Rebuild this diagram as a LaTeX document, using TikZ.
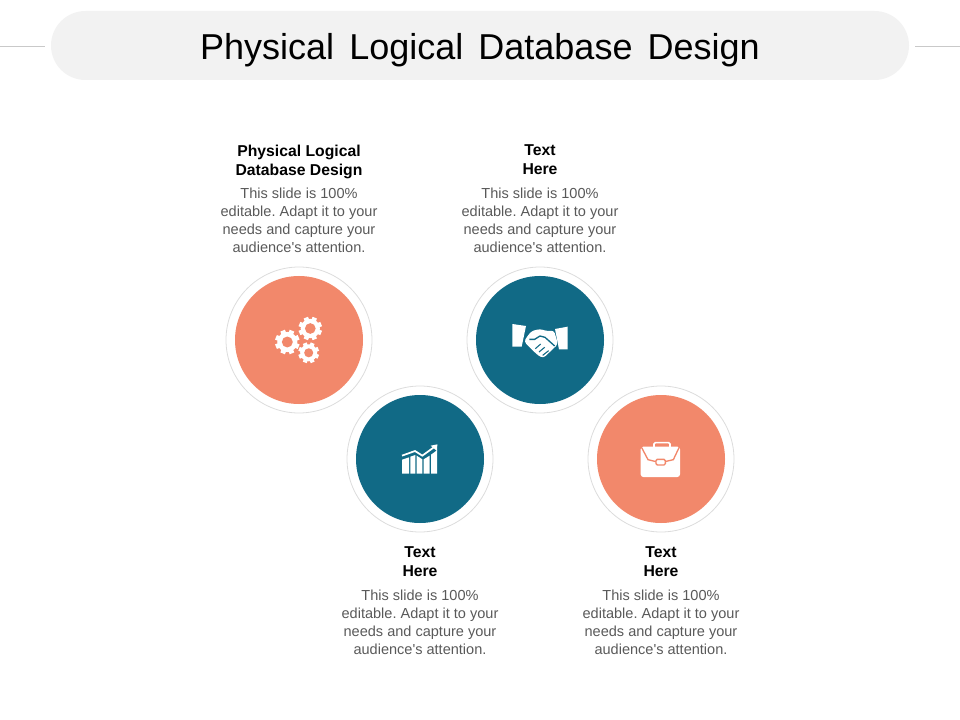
\documentclass[tikz,border=0pt]{standalone}
\usepackage{fontspec}
\setmainfont{Liberation Sans}
\usetikzlibrary{arrows.meta}
\definecolor{salmon}{HTML}{F2886B}
\definecolor{teal}{HTML}{116A86}
\definecolor{pill}{HTML}{F2F2F2}
\definecolor{ringline}{HTML}{DCDCDC}
\definecolor{bodygray}{HTML}{595959}
\tikzset{
    ring/.style={draw=ringline, line width=0.6pt, fill=white, circle, minimum size=109.5pt, inner sep=0pt},
    disc/.style={circle, minimum size=96pt, inner sep=0pt},
    heading/.style={align=center, inner sep=0pt, text=black, font=\fontsize{11.8}{14.25}\selectfont\bfseries},
    blurb/.style={align=center, inner sep=0pt, text=bodygray, font=\fontsize{10.9}{13.5}\selectfont\frenchspacing},
    pics/gear/.style n args={3}{code={
        \foreach \a in {0,45,...,315} {
            \fill [white, rotate=\a+22.5] (-#1*0.2, 0) rectangle (#1*0.2, #1);
        }
        \fill [white] (0, 0) circle [radius=#1*0.82];
        \fill [#3] (0, 0) circle [radius=#2];
    }},
}
\begin{document}
\begin{tikzpicture}[x=0.75pt, y=-0.75pt]
    \useasboundingbox (0, 0) rectangle (960, 720);

    \node (title-pill) [fill=pill, rounded corners=25.8pt, minimum width=643.5pt, minimum height=51.75pt, at={(480, 45.5)}] {};
    \node (title) [font=\fontsize{27}{32}\selectfont, at={(480, 50)}] {\spaceskip=0.42em Physical Logical Database Design};
    \coordinate (rule-left) at (0, 46);
    \coordinate (rule-right) at (960, 46);
    \draw [ringline!80!gray, line width=0.6pt] (rule-left) -- ([xshift=-4.5pt]title-pill.west |- rule-left);
    \draw [ringline!80!gray, line width=0.6pt] (rule-right) -- ([xshift=4.5pt]title-pill.east |- rule-right);

    \node (gear-ring) [ring, at={(299, 340)}] {};
    \node (hand-ring) [ring, at={(540, 340)}] {};
    \node (chart-ring) [ring, at={(420, 459)}] {};
    \node (case-ring) [ring, at={(661, 459)}] {};
    \node (gear-disc) [disc, fill=salmon, at={(299, 340)}] {};
    \node (hand-disc) [disc, fill=teal, at={(540, 340)}] {};
    \node (chart-disc) [disc, fill=teal, at={(420, 459)}] {};
    \node (case-disc) [disc, fill=salmon, at={(661, 459)}] {};

    \node (gear-head) [heading, at={(299, 161.5)}] {Physical Logical\\Database Design};
    \node (hand-head) [heading, at={(540, 159.5)}] {Text\\Here};
    \node (chart-head) [heading, at={(420, 561.5)}] {Text\\Here};
    \node (case-head) [heading, at={(661, 561.5)}] {Text\\Here};

    \node (gear-text) [blurb, at={(299, 220)}] {This slide is 100\%\\editable. Adapt it to your\\needs and capture your\\audience\textquotesingle s attention.};
    \node (hand-text) [blurb, at={(540, 220)}] {This slide is 100\%\\editable. Adapt it to your\\needs and capture your\\audience\textquotesingle s attention.};
    \node (chart-text) [blurb, at={(420, 622.5)}] {This slide is 100\%\\editable. Adapt it to your\\needs and capture your\\audience\textquotesingle s attention.};
    \node (case-text) [blurb, at={(661, 622.5)}] {This slide is 100\%\\editable. Adapt it to your\\needs and capture your\\audience\textquotesingle s attention.};

    % gears
    \pic at (287.3, 342) {gear={9.2pt}{4.1pt}{salmon}};
    \pic at (310.3, 328.5) {gear={8.8pt}{4pt}{salmon}};
    \pic at (308.7, 352.8) {gear={7.8pt}{3.4pt}{salmon}};

    % handshake
    \begin{scope}[shift={(490, 300)}, x=0.25pt, y=-0.25pt]
        \fill [white] (67, 72) -- (108, 78) -- (95, 140) -- (67, 140) -- cycle;
        \fill [white] (233, 80) -- (195, 87) -- (207, 148) -- (233, 148) -- cycle;
        \fill [white, rounded corners=2pt] (108, 114) -- (125, 93) -- (150, 87) -- (170, 93) -- (192, 92) -- (204, 132) -- (190, 146) -- (160, 174) -- (145, 167) -- (125, 148) -- (103, 126) -- cycle;
        \draw [teal, line width=1pt] (118, 118) -- (134, 118) -- (150, 108) -- (165, 112) -- (194, 138);
        \draw [teal, line width=0.8pt] (136, 146) -- (152, 132);
        \draw [teal, line width=0.8pt] (147, 156) -- (164, 142);
        \draw [teal, line width=0.8pt] (158, 166) -- (176, 152);
    \end{scope}

    % chart
    \begin{scope}[shift={(380, 425)}, x=0.25pt, y=-0.25pt]
        \fill [white] (66, 104) -- (87, 97) -- (87, 146) -- (66, 146) -- cycle;
        \fill [white] (91, 95) -- (106, 90) -- (106, 146) -- (91, 146) -- cycle;
        \fill [white] (110, 92) -- (127, 103) -- (127, 146) -- (110, 146) -- cycle;
        \fill [white] (131, 103) -- (149, 92) -- (149, 146) -- (131, 146) -- cycle;
        \fill [white] (153, 89) -- (171, 76) -- (171, 146) -- (153, 146) -- cycle;
        \draw [white, line width=1.3pt] (66, 92) -- (105, 78) -- (127, 92) -- (160, 68);
        \fill [white] (172, 58) -- (171, 78) -- (152, 62) -- cycle;
    \end{scope}

    % briefcase
    \begin{scope}[shift={(620, 425)}, x=0.25pt, y=-0.25pt]
        \draw [white, line width=1.2pt, rounded corners=1pt] (102, 66) -- (102, 53) -- (150, 53) -- (150, 66);
        \fill [white, rounded corners=2pt] (62, 65) rectangle (180, 156);
        \draw [salmon, line width=1pt] (64, 66) -- (84, 104) -- (108, 110);
        \draw [salmon, line width=1pt] (134, 110) -- (160, 104) -- (178, 66);
        \draw [salmon, fill=white, line width=1pt, rounded corners=1pt] (108, 103) rectangle (136, 120);
    \end{scope}
\end{tikzpicture}
\end{document}
